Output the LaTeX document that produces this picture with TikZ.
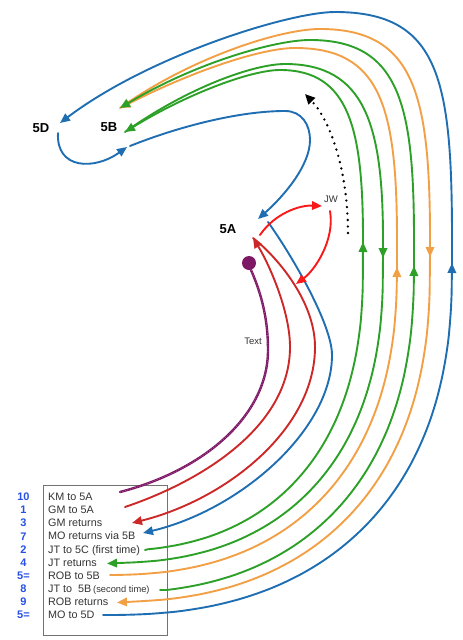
\documentclass[tikz,border=0pt]{standalone}
\usepackage{fontspec}
\setmainfont{Liberation Sans}
\usetikzlibrary{arrows.meta}
\definecolor{cblue}{RGB}{31,110,178}
\definecolor{corange}{RGB}{242,160,70}
\definecolor{cgreen}{RGB}{45,160,40}
\definecolor{cred}{RGB}{205,40,40}
\definecolor{cjw}{RGB}{250,25,25}
\definecolor{cpurple}{RGB}{125,25,100}
\definecolor{cpurplel}{RGB}{170,80,150}
\definecolor{cnum}{RGB}{40,80,230}
\begin{document}
\begin{tikzpicture}[x=1pt,y=-1pt,
  ln/.style={line width=1.9pt, line cap=round},
  withtip/.style={-{Triangle[length=10pt,width=8.5pt]}},
  lab/.style={font=\fontsize{13}{15}\selectfont\bfseries, inner sep=0pt},
  smalllab/.style={font=\fontsize{9.5}{11}\selectfont, text=black!80, inner sep=0pt},
  legtext/.style={font=\fontsize{10.8}{13}\selectfont, text=black!80, inner sep=0pt, anchor=base west},
  legnum/.style={font=\fontsize{11}{13}\selectfont\bfseries, text=cnum, inner sep=0pt, anchor=base},
  arc/.style={smooth, samples=45, domain=0:1, variable=\s},
]
\useasboundingbox (0,0) rectangle (463,640);

% labels
\node[lab] (n5D) at (41,128) {5D};
\node[lab] (n5B) at (109,127) {5B};
\node[lab] (n5A) at (228,229) {5A};
\node[smalllab] (jw) at (331,199) {JW};
\node[smalllab] (txt) at (253,341) {Text};

% legend
\node[draw=black!55, line width=0.8pt, minimum width=124pt, minimum height=150pt, inner sep=0pt] (box) at (105,560) {};
\foreach \i/\n/\t in {1/10/KM to 5A, 2/1/GM to 5A, 3/3/GM returns, 4/7/MO returns via 5B, 5/2/JT to 5C (first time), 6/4/JT returns, 7/5=/ROB to 5B, 8/8/JT to\ \ 5B\,{\fontsize{9.3}{11}\selectfont(second time)}, 9/9/ROB returns, 10/5=/MO to 5D}{
  \node[legtext] (t\i) at (48,{496.7+13.1*(\i-1)+3.9}) {\t};
  \node[legnum] (k\i) at (23.5,{496.7+13.1*(\i-1)+4}) {\n};
}

% end points
\coordinate (eKM) at (120,492);
\coordinate (eGM) at (125,507);
\coordinate (eGMr) at (132,523);
\coordinate (eMOr) at (143,533);
\coordinate (eJT5C) at (145,550);
\coordinate (eJTr) at (107,563.5);
\coordinate (eROB) at (110,575);
\coordinate (eJT5B) at (160,590);
\coordinate (eROBr) at (117,602.5);
\coordinate (eMO5D) at (103,615);
\coordinate (a5D) at (60,123);
\coordinate (a5B) at (120,108);
\coordinate (a5C) at (125,132);
\coordinate (a5A) at (253,238);
\coordinate (b5A) at (258,219);
\coordinate (c5A) at (268,222);
\coordinate (l5B) at (127,147);
\coordinate (p0) at (251,270);

% purple "Text" line
\node[circle, fill=cpurple, minimum size=14pt, inner sep=0pt] (dot) at (249,263) {};
\draw[cpurple, line width=2.4pt, line cap=round]
  (p0) .. controls (262,295) and (268,320) .. (268,350) .. controls (268,415) and (205,470) .. (eKM);
\draw[cpurplel, line width=0.8pt, dash pattern=on 1pt off 1.6pt]
  (p0) .. controls (262,295) and (268,320) .. (268,350) .. controls (268,415) and (205,470) .. (eKM);

% MO to 5D (outer blue)
\draw[cblue, ln, withtip] (eMO5D) -- plot[arc] ({103+349*pow(cos(89-86*\s),0.8333)},{263+352*pow(sin(89-86*\s),0.8333)}) -- (452,263);
\draw[cblue, ln, withtip] (452,265) -- (452,240) .. controls (452,80) and (440,12) .. (335,12) .. controls (290,12) and (150,55) .. (a5D);
% 5D loop to 5B
\draw[cblue, ln, withtip] (58,133) .. controls (56,170) and (95,170) .. (l5B);
% MO returns via 5B
\draw[cblue, ln, withtip] (130,146) .. controls (180,126) and (240,111) .. (285,111) .. controls (302,111) and (310,125) .. (310,140) .. controls (310,165) and (285,195) .. (b5A);
\draw[cblue, ln, withtip] (c5A) .. controls (293,257) and (332,325) .. (332,355) .. controls (332,430) and (240,510) .. (eMOr);

% ROB returns (outer orange)
\draw[corange, ln, withtip] (a5B) .. controls (190,58) and (280,29) .. (320,29) .. controls (415,29) and (430,95) .. (430,240) -- (430,257);
\draw[corange, ln, withtip] (430,255) -- plot[arc] ({103+327*pow(cos(3+83*\s),0.8333)},{263+339*pow(sin(3+83*\s),0.8333)}) -- (eROBr);

% ROB to 5B (inner orange)
\draw[corange, ln, withtip] (eROB) -- plot[arc] ({103+294*pow(cos(89-86*\s),0.8333)},{263+312*pow(sin(89-86*\s),0.8333)}) -- (397,267);
\draw[corange, ln, withtip] (397,269) -- (397,240) .. controls (397,105) and (380,48) .. (295,48) .. controls (262,48) and (195,70) .. (a5B);

% JT to 5B second time (green)
\draw[cgreen, ln, withtip] (eJT5B) -- plot[arc] ({103+311*pow(cos(81.5-78.5*\s),0.8333)},{263+330*pow(sin(81.5-78.5*\s),0.8333)}) -- (414,266);
\draw[cgreen, ln, withtip] (414,268) -- (414,240) .. controls (414,105) and (400,40) .. (310,40) .. controls (275,40) and (195,63) .. (a5B);

% JT returns (green)
\draw[cgreen, ln, withtip] (a5C) .. controls (190,86) and (255,64) .. (285,64) .. controls (365,64) and (383,125) .. (383,240) -- (383,258);
\draw[cgreen, ln, withtip] (383,256) -- plot[arc] ({103+280*pow(cos(3+83*\s),0.8333)},{263+300*pow(sin(3+83*\s),0.8333)}) -- (eJTr);

% JT to 5C first time (green)
\draw[cgreen, ln, withtip] (eJT5C) -- plot[arc] ({103+260*pow(cos(83-80*\s),0.8333)},{263+288*pow(sin(83-80*\s),0.8333)}) -- (363,242);
\draw[cgreen, ln, withtip] (363,244) -- (363,240) .. controls (363,130) and (350,70) .. (280,70) .. controls (250,70) and (185,95) .. (a5C);

% red GM to 5A and GM returns
\draw[cred, ln, withtip] (eGM) .. controls (205,480) and (290,425) .. (290,347) .. controls (290,310) and (268,262) .. (a5A);
\draw[cred, ln, withtip] (a5A) .. controls (275,255) and (315,300) .. (315,347) .. controls (315,430) and (225,500) .. (eGMr);

% JW arcs
\draw[cjw, ln, withtip] (260,235) .. controls (275,213) and (300,205) .. (322,206);
\draw[cjw, ln, withtip] (330,211) .. controls (335,240) and (315,270) .. (296,284);

% dotted black arrow
\draw[black, line width=2.6pt, line cap=round, dash pattern=on 0pt off 6.5pt, -{Triangle[length=10pt,width=9pt]}]
  (348,233) .. controls (348,170) and (330,120) .. (305,94);
\end{tikzpicture}
\end{document}
